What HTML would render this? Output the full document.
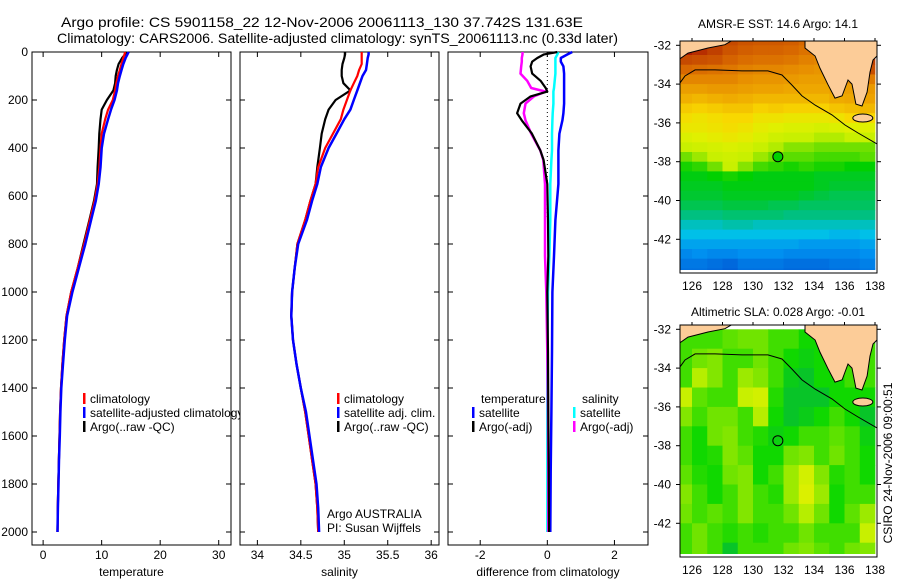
<!DOCTYPE html>
<html><head><meta charset="utf-8"><style>
html,body{margin:0;padding:0;background:#fff;}
svg{display:block;font-family:"Liberation Sans",sans-serif;}
</style></head><body>
<svg id="fig" width="900" height="580" viewBox="0 0 900 580">
<defs>
<clipPath id="clipMap1"><rect x="680" y="41" width="197" height="229"/></clipPath>
<clipPath id="clipMap2"><rect x="680" y="325" width="197" height="229"/></clipPath>
<clipPath id="clipLeg1"><rect x="32" y="380" width="208" height="60"/></clipPath>
</defs>
<g font-size="14" fill="#000">
<text x="61" y="27" textLength="522" lengthAdjust="spacingAndGlyphs">Argo profile: CS 5901158_22 12-Nov-2006 20061113_130 37.742S 131.63E</text>
<text x="57" y="43" textLength="561" lengthAdjust="spacingAndGlyphs">Climatology: CARS2006. Satellite-adjusted climatology: synTS_20061113.nc (0.33d later)</text>
</g>
<g id="plots"></g>
<text x="778" y="28" font-size="12" text-anchor="middle">AMSR-E SST: 14.6 Argo: 14.1</text>
<text x="778" y="316" font-size="12" text-anchor="middle">Altimetric SLA: 0.028 Argo: -0.01</text>
<text transform="translate(892,463) rotate(-90)" font-size="12" text-anchor="middle">CSIRO 24-Nov-2006 09:00:51</text>
</svg>
<script>
// ---------- profile data ----------
const depthTS = [0,10,25,50,75,100,130,160,200,240,280,340,400,480,550,620,700,800,900,1000,1100,1200,1300,1400,1500,1600,1700,1800,1900,2000];
const tempArgo = [14.2,14.0,13.5,12.9,12.6,12.4,12.3,12.0,10.9,10.0,9.8,9.6,9.5,9.3,9.2,8.7,7.9,6.9,5.9,4.8,4.0,3.6,3.3,3.05,2.9,2.8,2.7,2.6,2.5,2.45];
const tempClim = [14.0,13.9,13.7,13.4,13.1,12.8,12.5,12.3,11.9,11.1,10.6,10.0,9.8,9.6,9.3,8.8,8.0,7.0,5.9,4.8,4.0,3.6,3.3,3.05,2.9,2.8,2.7,2.6,2.5,2.45];
const tempSat = [14.6,14.4,14.1,13.7,13.4,13.1,12.8,12.6,12.2,11.6,11.1,10.4,10.0,9.8,9.5,9.0,8.2,7.2,6.1,5.0,4.1,3.7,3.4,3.1,2.95,2.85,2.72,2.62,2.52,2.45];
const salArgo = [35.01,35.01,35.0,34.98,34.97,34.97,34.99,35.07,34.90,34.82,34.78,34.74,34.72,34.69,34.67,34.61,34.55,34.46,34.43,34.40,34.39,34.41,34.45,34.50,34.55,34.59,34.63,34.67,34.69,34.70];
const salClim = [35.20,35.20,35.20,35.20,35.17,35.15,35.11,35.07,35.03,34.99,34.96,34.87,34.78,34.70,34.67,34.61,34.55,34.46,34.43,34.40,34.39,34.41,34.45,34.50,34.55,34.59,34.63,34.67,34.69,34.70];
const salSat = [35.28,35.28,35.27,35.26,35.25,35.21,35.18,35.15,35.11,35.07,35.00,34.91,34.82,34.73,34.69,34.63,34.57,34.47,34.43,34.40,34.39,34.41,34.45,34.50,34.56,34.60,34.64,34.68,34.70,34.71];
const depthDiff = [0,10,25,40,60,90,120,150,165,185,215,255,285,340,410,450,550,700,850,1000,1250,1500,1750,2000];
const diffTempArgo = [0.3,-0.1,-0.3,-0.45,-0.5,-0.45,-0.2,-0.05,0.0,-0.5,-0.8,-0.9,-0.76,-0.46,-0.21,-0.11,0.0,0.02,0.03,0.0,0.02,0.03,0.04,0.05];
const diffTempSat = [0.74,0.6,0.4,0.4,0.48,0.5,0.5,0.5,0.5,0.5,0.5,0.48,0.45,0.36,0.33,0.33,0.33,0.24,0.2,0.15,0.14,0.12,0.1,0.09];
const diffSalArgo = [-0.74,-0.74,-0.76,-0.76,-0.78,-0.8,-0.6,-0.48,-0.05,-0.4,-0.65,-0.7,-0.65,-0.48,-0.21,-0.12,-0.07,-0.07,-0.07,-0.03,0.0,0.02,0.03,0.03];
const diffSalSat = [0.33,0.3,0.24,0.24,0.24,0.24,0.22,0.2,0.18,0.18,0.18,0.16,0.15,0.14,0.14,0.12,0.09,0.09,0.06,0.02,0.0,0.0,0.0,0.0];
const depthTicks = [0,200,400,600,800,1000,1200,1400,1600,1800,2000];
const tempTicks = [0,10,20,30];
const salTicks = [34,34.5,35,35.5,36];
const diffTicks = [-2,0,2];
// ---------- map data ----------
const lonTicks = [126,128,130,132,134,136,138];
const latTicks = [-32,-34,-36,-38,-40,-42];
const sstLats = [-31.5,-32,-32.5,-33,-33.5,-34,-34.5,-35,-35.5,-36,-36.5,-37,-37.5,-38,-38.5,-39,-39.5,-40,-40.5,-41,-41.5,-42,-42.5,-43,-43.5];
const sstRows = [
[19.4,19.3,19.0,18.6,18.4,18.3,18.3,18.2,18.0,17.8,17.8,18.5,19.2],
[19.2,19.0,18.8,18.4,18.2,18.1,18.1,18.0,17.8,17.6,17.6,18.2,19.0],
[18.6,18.5,18.4,18.1,17.9,17.8,17.8,17.7,17.5,17.4,17.4,17.7,18.8],
[18.0,17.9,17.8,17.7,17.5,17.4,17.4,17.3,17.2,17.1,17.2,17.4,18.5],
[17.4,17.4,17.4,17.4,17.2,17.1,17.1,17.0,16.9,16.9,17.0,17.2,17.6],
[16.9,16.9,17.0,17.0,16.9,16.8,16.8,16.7,16.7,16.7,16.8,16.9,17.0],
[16.5,16.4,16.5,16.6,16.5,16.4,16.4,16.4,16.4,16.4,16.6,16.7,16.8],
[16.1,16.0,16.1,16.2,16.2,16.0,16.1,16.0,16.0,16.0,16.2,16.3,16.4],
[15.8,15.7,15.8,15.9,15.9,15.7,15.7,15.6,15.6,15.6,15.7,15.9,15.9],
[15.6,15.6,15.7,15.8,15.7,15.5,15.4,15.3,15.3,15.2,15.3,15.4,15.4],
[15.3,15.4,15.5,15.6,15.5,15.3,15.1,15.0,15.0,14.9,14.9,15.0,15.0],
[15.0,15.1,15.2,15.3,15.2,15.0,14.9,14.7,14.7,14.6,14.6,14.6,14.6],
[14.6,14.8,15.0,15.1,15.0,14.8,14.6,14.5,14.5,14.4,14.4,14.4,14.5],
[14.2,14.3,14.6,15.0,14.7,14.4,14.3,14.2,14.3,14.2,14.2,14.1,14.1],
[14.0,14.0,14.1,14.2,14.1,14.0,14.0,14.0,14.0,13.9,13.9,13.9,13.9],
[13.9,13.9,13.9,14.0,14.0,14.0,14.0,14.0,14.0,13.9,13.8,13.8,13.8],
[13.8,13.8,13.8,13.9,13.9,13.9,13.9,13.9,13.8,13.7,13.6,13.6,13.6],
[13.6,13.6,13.6,13.7,13.7,13.7,13.6,13.6,13.5,13.5,13.5,13.5,13.5],
[13.3,13.3,13.3,13.4,13.4,13.4,13.4,13.3,13.3,13.3,13.3,13.3,13.3],
[13.0,13.0,13.0,13.1,13.1,13.0,13.0,13.0,13.0,13.0,13.0,13.0,13.0],
[12.8,12.8,12.8,12.8,12.8,12.8,12.8,12.8,12.8,12.8,12.7,12.7,12.8],
[12.5,12.5,12.5,12.5,12.5,12.5,12.5,12.5,12.4,12.4,12.4,12.4,12.5],
[12.2,12.3,12.2,12.2,12.3,12.3,12.3,12.2,12.2,12.2,12.2,12.2,12.3],
[12.0,12.0,11.9,11.8,12.0,12.0,12.0,11.9,11.9,11.9,12.0,12.0,12.1],
[11.9,11.9,11.8,11.7,11.9,11.9,11.9,11.8,11.8,11.8,11.9,11.9,12.0]];
const slaLats = [-32,-33,-34,-35,-36,-37,-38,-39,-40,-41,-42,-43];
const slaRows = [
[0.05,0.05,0.05,0.08,0.1,0.1,0.05,0.05,0,0,0,0.05,0.05],
[0.05,0.1,0.12,0.05,0.05,0.1,0.05,0,-0.02,0,0,0.05,0.05],
[0.05,0.18,0.12,0.05,0.15,0.12,0.05,-0.03,-0.05,0,0,0.05,0.05],
[0.2,0.08,0.05,0.05,0.2,0.22,0.02,-0.05,-0.05,-0.05,0,0,0],
[0.12,0.05,0.1,0.1,0.05,0.18,0,-0.05,-0.03,0,0.05,0,-0.05],
[0.05,0,0.1,0.12,0.05,0.02,-0.02,0,0.05,0.05,0.08,0.05,-0.02],
[0.05,0,0.02,0.12,0.08,0,0,0.1,0.12,0.05,0.1,0.05,0],
[0.08,0.02,0,0.1,0.12,0,0.05,0.15,0.22,0.12,0.02,0.05,0],
[0.12,0.05,0,0.05,0.12,0.05,0.02,0.15,0.24,0.15,0,0.05,0.05],
[0.1,0.05,0.08,0.05,0.12,0.05,0.05,0.1,0.18,0.1,0,0.08,0.15],
[0.05,0.1,0.05,0.02,0.05,0.02,0.05,0.05,0.1,0.05,0.05,0.05,0.2],
[0.05,0.1,0.05,-0.05,0.05,0.05,0.05,0.1,0.12,0.08,0.05,0.1,0.12]];
const coastWLon = [125.0,125.21,125.74,127.05,128.16,128.75,125.0];
const coastWLat = [-32.69,-32.69,-32.40,-32.14,-31.97,-31.7,-31.7];
const coastELon = [133.41,133.41,134.07,134.39,134.92,135.38,135.84,136.23,136.49,136.75,137.15,137.48,137.67,137.87,138.13,138.3,138.3];
const coastELat = [-31.7,-32.14,-32.55,-33.17,-34.03,-34.72,-34.61,-33.79,-34.0,-35.03,-35.13,-34.41,-33.38,-32.76,-32.55,-32.55,-31.7];
const isoLon = [125.21,125.54,126.20,127.51,129.28,130.98,131.90,132.56,133.21,134.07,135.18,136.03,136.89,138.13];
const isoLat = [-33.94,-33.58,-33.27,-33.27,-33.32,-33.32,-33.53,-34.05,-34.61,-35.08,-35.59,-36.11,-36.52,-37.09];
const argoLon = 131.63, argoLat = -37.742;
const sstArgo = 14.1;

const NS='http://www.w3.org/2000/svg';
const root=document.getElementById('plots');
function mk(tag,attrs,parent){const e=document.createElementNS(NS,tag);for(const k in attrs)e.setAttribute(k,attrs[k]);(parent||root).appendChild(e);return e;}
const Y0=52, DY=0.24, BOT=545;
const yD=d=>Y0+d*DY;

function panel(name,x0,x1,dom,xticks,showY,xlabel){
  const g=mk('g',{});
  
  
  const sx=v=>x0+(v-dom[0])/(dom[1]-dom[0])*(x1-x0);
  const box=mk('rect',{x:x0,y:Y0,width:x1-x0,height:BOT-Y0,fill:'none',stroke:'#000','stroke-width':1},g);
  
  
  depthTicks.forEach(d=>{
    const y=yD(d);
    mk('line',{x1:x0,x2:x0+5,y1:y,y2:y,stroke:'#000'},g);
    mk('line',{x1:x1-5,x2:x1,y1:y,y2:y,stroke:'#000'},g);
    if(showY){const t=mk('text',{x:x0-4,y:y+4,'font-size':12,'text-anchor':'end'},g);t.textContent=d;
      
      }
  });
  xticks.forEach(v=>{
    const x=sx(v);
    mk('line',{x1:x,x2:x,y1:Y0,y2:Y0+5,stroke:'#000'},g);
    mk('line',{x1:x,x2:x,y1:BOT-5,y2:BOT,stroke:'#000'},g);
    const t=mk('text',{x:x,y:559,'font-size':12,'text-anchor':'middle'},g);t.textContent=v;
    
    
  });
  const xl=mk('text',{x:(x0+x1)/2,y:576,'font-size':12,'text-anchor':'middle'},g);xl.textContent=xlabel;
  
  
  return {g,sx};
}
function series(p,name,depths,vals,color,w,dash){
  const pts=vals.map((v,i)=>p.sx(v).toFixed(1)+','+yD(depths[i]).toFixed(1)).join(' ');
  const l=mk('polyline',{points:pts,fill:'none',stroke:color,'stroke-width':w,'stroke-linejoin':'round'},p.g);
  if(dash)l.setAttribute('stroke-dasharray',dash);
  
  
}
function legend(g,x,y,color,label,name){
  if(color){mk('rect',{x:x,y:y-10,width:2.5,height:11,fill:color},g);}
  const t=mk('text',{x:x+7,y:y,'font-size':12},g);t.textContent=label;
  
  
}
// panel 1
const p1=panel('temperature-panel',32,231,[-1.9,32.1],tempTicks,true,'temperature');
series(p1,'temp-argo-line',depthTS,tempArgo,'#000',2.2);
series(p1,'temp-climatology-line',depthTS,tempClim,'#f00',2.2);
series(p1,'temp-satellite-line',depthTS,tempSat,'#00f',2.5);
const leg1=mk('g',{'clip-path':'url(#clipLeg1)'},p1.g);
legend(leg1,83,403,'#f00','climatology','legend-climatology');
legend(leg1,83,417,'#00f','satellite-adjusted climatology','legend-satellite-adjusted');
legend(leg1,83,431,'#000','Argo(..raw -QC)','legend-argo');
// panel 2
const p2=panel('salinity-panel',240,439,[33.8,36.09],salTicks,false,'salinity');
series(p2,'sal-argo-line',depthTS,salArgo,'#000',2.2);
series(p2,'sal-climatology-line',depthTS,salClim,'#f00',2.2);
series(p2,'sal-satellite-line',depthTS,salSat,'#00f',2.5);
legend(p2.g,337,403,'#f00','climatology','legend-climatology');
legend(p2.g,337,417,'#00f','satellite adj. clim.','legend-satellite-adj');
legend(p2.g,337,431,'#000','Argo(..raw -QC)','legend-argo');
{const t=mk('text',{x:327,y:518,'font-size':12},p2.g);t.textContent='Argo AUSTRALIA';

const t2=mk('text',{x:327,y:532,'font-size':12},p2.g);t2.textContent='PI: Susan Wijffels';
}
// panel 3
const p3=panel('difference-panel',448,648,[-2.96,3.0],diffTicks,false,'difference from climatology');
{const z=mk('line',{x1:p3.sx(0),x2:p3.sx(0),y1:Y0,y2:yD(700),stroke:'#000','stroke-dasharray':'1,3'},p3.g);
}
series(p3,'diff-temp-satellite-line',depthDiff,diffTempSat,'#00f',2.5);
series(p3,'diff-sal-satellite-line',depthDiff,diffSalSat,'#0ff',2.5);
series(p3,'diff-sal-argo-line',depthDiff,diffSalArgo,'#f0f',2.5);
series(p3,'diff-temp-argo-line',depthDiff,diffTempArgo,'#000',2.2);
legend(p3.g,474,403,null,'temperature','legend-temperature-heading');
legend(p3.g,472,417,'#00f','satellite','legend-temp-satellite');
legend(p3.g,472,431,'#000','Argo(-adj)','legend-temp-argo');
legend(p3.g,575,403,null,'salinity','legend-salinity-heading');
legend(p3.g,573,417,'#0ff','satellite','legend-sal-satellite');
legend(p3.g,573,431,'#f0f','Argo(-adj)','legend-sal-argo');

// ---------- maps ----------
const sxLon=lon=>692+(lon-126)*15.25;
function hexToRgb(h){return [parseInt(h.substr(1,2),16),parseInt(h.substr(3,2),16),parseInt(h.substr(5,2),16)];}
function cmap(stops,v){
  if(v<=stops[0][0])return stops[0][1];
  for(let i=1;i<stops.length;i++){if(v<=stops[i][0]){const a=stops[i-1],b=stops[i];const f=(v-a[0])/(b[0]-a[0]);
    const ca=hexToRgb(a[1]),cb=hexToRgb(b[1]);return 'rgb('+ca.map((c,k)=>Math.round(c+(cb[k]-c)*f)).join(',')+')';}}
  return stops[stops.length-1][1];
}
const sstStops=[[11.5,'#0050d0'],[12.3,'#0090f0'],[12.8,'#00c0e8'],[13.3,'#00c080'],[13.8,'#00c830'],[14.1,'#00d000'],[14.6,'#70e000'],[15.0,'#c8f000'],[15.4,'#e0f000'],[15.9,'#f8d800'],[16.5,'#f0b000'],[17.2,'#e89000'],[18.0,'#d86800'],[18.8,'#c04000'],[19.5,'#a00000']];
const slaStops=[[-0.1,'#00b050'],[0,'#10d800'],[0.1,'#70e400'],[0.2,'#c8f000'],[0.25,'#e0f000']];
function drawMap(name,top,clip,lats,rows,dLat,stops,argoFill){
  const g=mk('g',{});
  
  
  const syLat=lat=>top+4.3+(-32-lat)*19.4;
  mk('rect',{x:680,y:top,width:197,height:232,fill:'#fff'},g);
  const cg=mk('g',{'clip-path':'url(#'+clip+')'},g);
  rows.forEach((row,j)=>{
    row.forEach((v,i)=>{
      const c=mk('rect',{x:sxLon(125+i).toFixed(2),y:syLat(lats[j]).toFixed(2),width:15.6,height:(dLat*19.4+0.4).toFixed(2),fill:cmap(stops,v)},cg);
      
      
    });
  });
  [[coastWLon,coastWLat,'land-west'],[coastELon,coastELat,'land-east']].forEach(c=>{
    const land=mk('polygon',{points:c[0].map((lo,i)=>sxLon(lo).toFixed(1)+','+syLat(c[1][i]).toFixed(1)).join(' '),fill:'#fccc98',stroke:'#000','stroke-width':1},cg);
    
    
  });
  const ki=mk('ellipse',{cx:sxLon(137.2),cy:syLat(-35.75),rx:10,ry:4,fill:'#fccc98',stroke:'#000'},cg);
  
  
  const iso=mk('polyline',{points:isoLon.map((lo,i)=>sxLon(lo).toFixed(1)+','+syLat(isoLat[i]).toFixed(1)).join(' '),fill:'none',stroke:'#000','stroke-width':1},cg);
  
  
  const fr=mk('rect',{x:680,y:top,width:197,height:232,fill:'none',stroke:'#000'},g);
  
  
  const ac=mk('circle',{cx:sxLon(argoLon),cy:syLat(argoLat),r:5,fill:argoFill,stroke:'#000'},g);
  
  
  lonTicks.forEach(lo=>{const x=sxLon(lo);
    mk('line',{x1:x,x2:x,y1:top,y2:top-3,stroke:'#000'},g);
    const t=mk('text',{x:x,y:top+249,'font-size':12,'text-anchor':'middle'},g);t.textContent=lo;
    });
  latTicks.forEach(la=>{const y=syLat(la);
    mk('line',{x1:877,x2:881,y1:y,y2:y,stroke:'#000'},g);
    mk('line',{x1:676,x2:680,y1:y,y2:y,stroke:'#000'},g);
    const t=mk('text',{x:671,y:y+4,'font-size':12,'text-anchor':'end'},g);t.textContent=la;
    });
}
drawMap('sst-map',41,'clipMap1',sstLats,sstRows,0.5,sstStops,cmap(sstStops,sstArgo));
drawMap('sla-map',325,'clipMap2',slaLats,slaRows,1,slaStops,'none');
</script>
</body></html>
